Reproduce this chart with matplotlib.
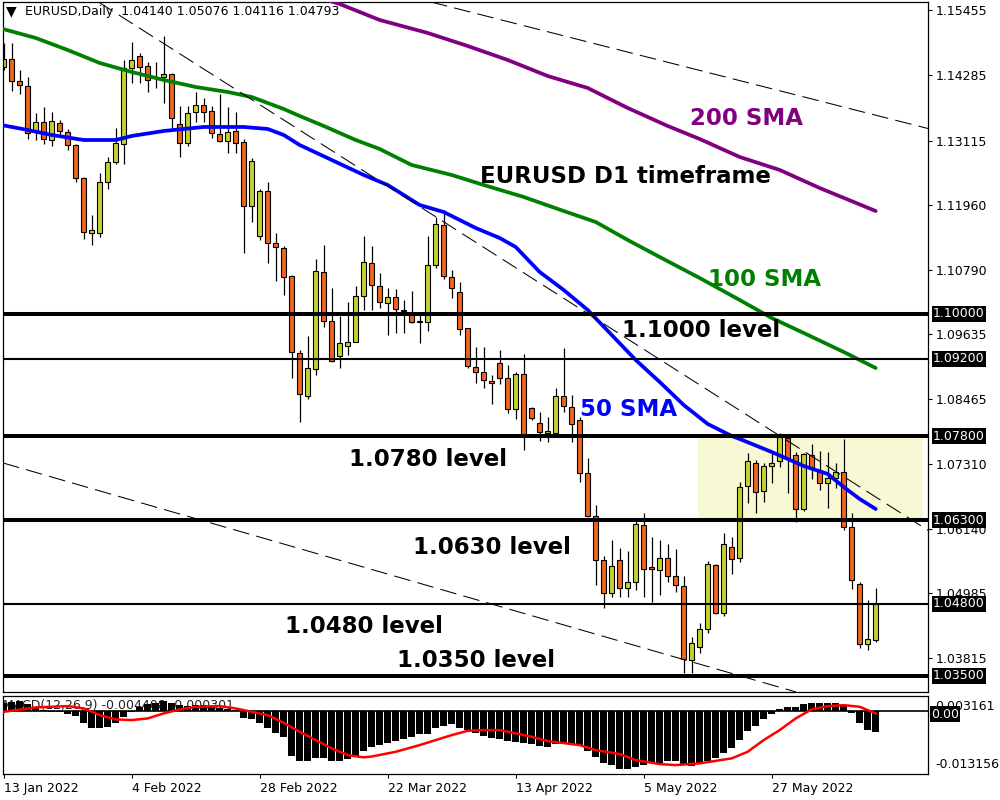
import matplotlib
matplotlib.use("Agg")
import matplotlib.pyplot as plt
import matplotlib.transforms as mtransforms
from matplotlib.patches import Rectangle

plt.rcParams['font.family'] = ['DejaVu Sans']

# ---------------- data ----------------
opens = [
    1.14435, 1.14579, 1.14184, 1.14094, 1.13286, 1.13447, 1.13124, 1.13429, 1.13268, 1.13034,
    1.12442, 1.11454, 1.11454, 1.12370, 1.12729, 1.13052, 1.14417, 1.14633, 1.14453, 1.14255,
    1.14255, 1.14309, 1.13412, 1.13070, 1.13627, 1.13753, 1.13645, 1.13232, 1.13106, 1.13286,
    1.13088, 1.11939, 1.11400, 1.12208, 1.11275, 1.11185, 1.10682, 1.09300, 1.08527, 1.09012,
    1.10754, 1.09874, 1.09246, 1.09425, 1.09497, 1.10323, 1.10916, 1.10503, 1.10197, 1.10305,
    1.10072, 1.09982, 1.09874, 1.09856, 1.10880, 1.11598, 1.10664, 1.10395, 1.09748, 1.09048,
    1.08958, 1.08797, 1.09120, 1.08851, 1.08294, 1.08923, 1.08312, 1.08043, 1.07863, 1.07863,
    1.08527, 1.08330, 1.08097, 1.07145, 1.06373, 1.05583, 1.04990, 1.05583, 1.05080, 1.05188,
    1.06211, 1.05457, 1.05403, 1.05619, 1.05295, 1.05116, 1.03787, 1.04021, 1.04344, 1.05493,
    1.04631, 1.05816, 1.05619, 1.06911, 1.07324, 1.06822, 1.07271, 1.07360, 1.07773, 1.07468,
    1.06498, 1.07468, 1.07199, 1.06965, 1.07055, 1.07163, 1.06175, 1.05152, 1.04074, 1.04140]
highs = [
    1.14866, 1.14866, 1.14381, 1.14255, 1.13609, 1.13717, 1.13627, 1.13483, 1.13322, 1.13050,
    1.12460, 1.11778, 1.12532, 1.12819, 1.13340, 1.14561, 1.14884, 1.14686, 1.14525, 1.14525,
    1.14992, 1.14327, 1.13735, 1.13735, 1.13986, 1.13878, 1.13735, 1.13950, 1.13717, 1.13627,
    1.13142, 1.12801, 1.12244, 1.12370, 1.11454, 1.11221, 1.10700, 1.09353, 1.09605, 1.10987,
    1.11239, 1.10467, 1.09964, 1.10215, 1.10503, 1.11400, 1.11221, 1.10736, 1.10467, 1.10449,
    1.10251, 1.10413, 1.10036, 1.11400, 1.11742, 1.11867, 1.10790, 1.10574, 1.09748, 1.09407,
    1.09407, 1.08905, 1.09353, 1.09084, 1.08950, 1.09282, 1.08330, 1.08240, 1.08150, 1.08671,
    1.09389, 1.08545, 1.08150, 1.07414, 1.06570, 1.05655, 1.05942, 1.05798, 1.05744, 1.06283,
    1.06427, 1.05996, 1.05942, 1.05870, 1.05780, 1.05295, 1.04200, 1.04451, 1.05565, 1.05511,
    1.06068, 1.05996, 1.06983, 1.07504, 1.07378, 1.07324, 1.07540, 1.07863, 1.07845, 1.07522,
    1.07504, 1.07666, 1.07540, 1.07522, 1.07324, 1.07755, 1.06427, 1.05188, 1.04864, 1.05076]
lows = [
    1.14381, 1.14004, 1.13950, 1.13142, 1.13124, 1.13052, 1.13016, 1.13178, 1.12945, 1.12370,
    1.11347, 1.11239, 1.11382, 1.12244, 1.12693, 1.12693, 1.14148, 1.14148, 1.13986, 1.14058,
    1.13789, 1.13340, 1.12819, 1.13016, 1.13447, 1.13447, 1.13160, 1.13088, 1.12891, 1.12891,
    1.11095, 1.11652, 1.11329, 1.10916, 1.10592, 1.10341, 1.08851, 1.08061, 1.08474, 1.08905,
    1.09766, 1.09138, 1.09030, 1.09264, 1.09497, 1.10072, 1.10072, 1.10108, 1.09623, 1.09659,
    1.09659, 1.09838, 1.09479, 1.09695, 1.10826, 1.10628, 1.10287, 1.09623, 1.09030, 1.08761,
    1.08671, 1.08384, 1.08743, 1.08222, 1.08114, 1.07558, 1.08097, 1.07719, 1.07701, 1.07863,
    1.08240, 1.07701, 1.06983, 1.06355, 1.05134, 1.04721, 1.04918, 1.04918, 1.04918, 1.05044,
    1.04918, 1.04829, 1.04954, 1.05188, 1.05008, 1.03554, 1.03554, 1.03913, 1.04272, 1.04613,
    1.04577, 1.05331, 1.05547, 1.06606, 1.06427, 1.06624, 1.06965, 1.07253, 1.06786, 1.06265,
    1.06463, 1.07037, 1.06840, 1.06516, 1.06876, 1.06121, 1.05062, 1.04003, 1.03967, 1.04116]
closes = [
    1.14579, 1.14184, 1.14112, 1.13250, 1.13447, 1.13142, 1.13465, 1.13286, 1.13034, 1.12442,
    1.11472, 1.11508, 1.12370, 1.12729, 1.13070, 1.14417, 1.14561, 1.14435, 1.14202, 1.14237,
    1.14309, 1.13519, 1.13070, 1.13609, 1.13753, 1.13627, 1.13250, 1.13106, 1.13268, 1.13070,
    1.11939, 1.12747, 1.12208, 1.11275, 1.11203, 1.10664, 1.09318, 1.08563, 1.09030, 1.10772,
    1.09874, 1.09156, 1.09479, 1.09497, 1.10323, 1.10934, 1.10521, 1.10215, 1.10305, 1.10090,
    1.10054, 1.09856, 1.09856, 1.10880, 1.11616, 1.10682, 1.10467, 1.09731, 1.09066, 1.08958,
    1.08815, 1.08761, 1.08851, 1.08294, 1.08923, 1.07809, 1.08132, 1.07881, 1.07899, 1.08527,
    1.08348, 1.08025, 1.07145, 1.06373, 1.05583, 1.04990, 1.05475, 1.05080, 1.05188, 1.06229,
    1.05421, 1.05421, 1.05619, 1.05295, 1.05134, 1.03805, 1.04092, 1.04344, 1.05511, 1.04631,
    1.05870, 1.05601, 1.06893, 1.07360, 1.06804, 1.07271, 1.07324, 1.07791, 1.07414, 1.06498,
    1.07486, 1.07217, 1.06965, 1.07055, 1.07163, 1.06175, 1.05224, 1.04074, 1.04164, 1.04793]

sma50_idx = [-1, 3, 6, 10, 14, 16, 20, 25, 30, 33, 35, 37, 41, 45, 48, 52, 55, 59, 62, 64,
             67, 70, 73, 76, 79, 82, 85, 88, 91, 92, 96, 100, 103, 105, 107, 109]
sma50_val = [1.13412, 1.13304, 1.13214, 1.13124, 1.13124, 1.13196, 1.13286, 1.13358, 1.13358,
             1.13322, 1.13214, 1.13034, 1.12765, 1.12496, 1.12316, 1.11957, 1.11831, 1.11544,
             1.11364, 1.11203, 1.10754, 1.10431, 1.10072, 1.09623, 1.09174, 1.08779, 1.08366,
             1.08025, 1.07809, 1.07755, 1.07522, 1.07271, 1.07127, 1.06893, 1.06678, 1.06498]
sma100_idx = [-1, 4, 8, 12, 16, 20, 24, 28, 31, 35, 37, 40, 44, 47, 51, 56, 60, 65, 70, 74,
              78, 82, 87, 92, 96, 100, 105, 109]
sma100_val = [1.15153, 1.14956, 1.14740, 1.14507, 1.14345, 1.14202, 1.14076, 1.13986, 1.13896,
              1.13681, 1.13555, 1.13376, 1.13124, 1.12962, 1.12675, 1.12496, 1.12316, 1.12101,
              1.11849, 1.11652, 1.11329, 1.11023, 1.10646, 1.10251, 1.09928, 1.09659, 1.09318,
              1.09030]
sma200_idx = [37, 40, 42, 47, 53, 58, 63, 68, 73, 78, 83, 87, 92, 97, 102, 109]
sma200_val = [1.15818, 1.15656, 1.15566, 1.15279, 1.15046, 1.14812, 1.14561, 1.14273, 1.14058,
              1.13699, 1.13376, 1.13142, 1.12819, 1.12586, 1.12262, 1.11849]

macd_hist = [
    0.00161, 0.00188, 0.00209, 0.00146, 0.00063, 0.00021, -0.00010, -0.00021, -0.00052, -0.00098,
    -0.00245, -0.00349, -0.00349, -0.00328, -0.00257, -0.00119, -0.00015, 0.00090, 0.00146, 0.00161,
    0.00215, 0.00173, 0.00125, 0.00105, 0.00125, 0.00125, 0.00094, 0.00073, 0.00052, 0.00021,
    -0.00153, -0.00173, -0.00245, -0.00349, -0.00454, -0.00550, -0.00941, -0.01039, -0.01039, -0.00976,
    -0.00976, -0.01039, -0.01039, -0.01009, -0.00941, -0.00830, -0.00746, -0.00711, -0.00663, -0.00627,
    -0.00591, -0.00537, -0.00481, -0.00481, -0.00349, -0.00307, -0.00278, -0.00349, -0.00397, -0.00466,
    -0.00516, -0.00558, -0.00585, -0.00627, -0.00642, -0.00663, -0.00690, -0.00725, -0.00746, -0.00690,
    -0.00690, -0.00696, -0.00717, -0.00830, -0.00968, -0.01081, -0.01129, -0.01212, -0.01219, -0.01164,
    -0.01129, -0.01093, -0.01081, -0.01051, -0.01039, -0.01108, -0.01150, -0.01114, -0.01045, -0.00989,
    -0.00872, -0.00780, -0.00606, -0.00412, -0.00307, -0.00173, -0.00069, 0.00036, 0.00090, 0.00077,
    0.00146, 0.00161, 0.00161, 0.00161, 0.00161, 0.00105, -0.00048, -0.00245, -0.00397, -0.00433]
sig_idx = [0, 4, 8, 10, 12, 14, 16, 18, 20, 22, 24, 27, 29, 31, 33, 35, 37, 39, 41, 43, 45, 46,
           49, 52, 54, 56, 58, 60, 62, 66, 68, 72, 74, 77, 79, 82, 84, 87, 91, 93, 95, 97, 99,
           101, 103, 105, 107, 109]
sig_val = [-0.00015, 0.00077, 0.00105, 0.00056, -0.00084, -0.00173, -0.00188, -0.00153, -0.00048,
           0.00036, 0.00090, 0.00105, 0.00056, -0.00015, -0.00084, -0.00245, -0.00433, -0.00606,
           -0.00780, -0.00920, -0.00968, -0.00950, -0.00851, -0.00711, -0.00606, -0.00502,
           -0.00412, -0.00397, -0.00397, -0.00537, -0.00627, -0.00711, -0.00815, -0.00899,
           -0.01024, -0.01108, -0.01129, -0.01093, -0.00989, -0.00851, -0.00606, -0.00397,
           -0.00153, 0.00036, 0.00105, 0.00125, 0.00090, -0.00048]

levels_thick = [1.1000, 1.0780, 1.0630, 1.0350]
levels_thin = [1.0920, 1.0480]
level_tags = ["1.10000", "1.09200", "1.07800", "1.06300", "1.04800", "1.03500"]
level_tag_vals = [1.1000, 1.0920, 1.0780, 1.0630, 1.0480, 1.0350]
price_ticks = [1.15455, 1.14285, 1.13115, 1.11960, 1.10790, 1.09635, 1.08465,
               1.07310, 1.06140, 1.04985, 1.03815]
price_tick_labels = ["1.15455", "1.14285", "1.13115", "1.11960", "1.10790", "1.09635",
                     "1.08465", "1.07310", "1.06140", "1.04985", "1.03815"]
date_tick_idx = [0, 16, 32, 48, 64, 80, 96]
date_tick_labels = ["13 Jan 2022", "4 Feb 2022", "28 Feb 2022", "22 Mar 2022",
                    "13 Apr 2022", "5 May 2022", "27 May 2022"]

trend_upper = [(54, 1.15580), (115, 1.13350)]
trend_mid = [(12, 1.15588), (115, 1.06165)]
trend_low = [(0, 1.07321), (97, 1.03297)]
zone_low, zone_high = 1.0630, 1.0780
zone_start, zone_end = 86.8, 114.9

header = "EURUSD,Daily  1.04140 1.05076 1.04116 1.04793"
macd_title = "MACD(12,26,9) -0.004408 -0.000301"

# ---------------- figure ----------------
W, H = 1000, 800
fig = plt.figure(figsize=(10, 8), dpi=100, facecolor='white')


def fx(x):
    return x / W


def fy(y):
    return 1 - y / H


ax = fig.add_axes([fx(3), fy(692), (928 - 3) / W, (692 - 2) / H])
axm = fig.add_axes([fx(3), fy(774), (928 - 3) / W, (774 - 696) / H])

XMIN, XMAX = -0.09, 115.54
ax.set_xlim(XMIN, XMAX)
ax.set_ylim(1.03212, 1.15602)
axm.set_xlim(XMIN, XMAX)
axm.set_ylim(-0.013156, 0.003161)

for a in (ax, axm):
    for s in a.spines.values():
        s.set_linewidth(0.9)
        s.set_color('black')

BULL = '#C4D22D'
BEAR = '#F0641E'

# zone
ax.add_patch(Rectangle((zone_start, zone_low), zone_end - zone_start, zone_high - zone_low,
                       facecolor='#F8F8D4', edgecolor='none', zorder=0.5))

# candles
xs = list(range(len(opens)))
body_bottom = [min(o, c) for o, c in zip(opens, closes)]
body_h = [max(abs(c - o), 0.00012) for o, c in zip(opens, closes)]
colors = [BULL if c >= o else BEAR for o, c in zip(opens, closes)]
ax.vlines(xs, lows, highs, color='black', linewidth=0.9, zorder=1.9)
ax.bar(xs, body_h, bottom=body_bottom, width=0.56, color=colors, edgecolor='black',
       linewidth=0.8, zorder=2)

# moving averages
ax.plot(sma200_idx, sma200_val, color='#800080', linewidth=2.7, zorder=3,
        solid_capstyle='round', solid_joinstyle='round')
ax.plot(sma100_idx, sma100_val, color='#008000', linewidth=2.7, zorder=3,
        solid_capstyle='round', solid_joinstyle='round')
ax.plot(sma50_idx, sma50_val, color='#0000FF', linewidth=2.7, zorder=3,
        solid_capstyle='round', solid_joinstyle='round')

# level lines
for lv in levels_thick:
    ax.axhline(lv, color='black', linewidth=2.9, zorder=4)
for lv in levels_thin:
    ax.axhline(lv, color='black', linewidth=1.5, zorder=4)

# trend lines
for p1, p2 in (trend_upper, trend_mid, trend_low):
    ax.axline(p1, p2, color='black', linewidth=0.75, linestyle=(0, (16, 7)), zorder=4)

# price axis
ax.set_xticks([])
ax.yaxis.tick_right()
ax.set_yticks(price_ticks)
ax.set_yticklabels(price_tick_labels)
ax.tick_params(axis='y', direction='out', length=3, width=0.8, pad=2.5, labelsize=9,
               colors='black')
trans = mtransforms.blended_transform_factory(ax.transAxes, ax.transData)
for lab, val in zip(level_tags, level_tag_vals):
    ax.annotate(lab, xy=(1, val), xycoords=trans, xytext=(5, 0), textcoords='offset pixels',
                ha='left', va='center', fontsize=9, color='white', zorder=10,
                annotation_clip=False,
                bbox=dict(boxstyle='square,pad=0.12', facecolor='black', edgecolor='none'))

# annotations
annos = [("EURUSD D1 timeframe", 480, 183, 'black'),
         ("200 SMA", 690, 125, '#800080'),
         ("100 SMA", 708, 286, '#008000'),
         ("50 SMA", 580, 416, '#0000FF'),
         ("1.1000 level", 622, 337, 'black'),
         ("1.0780 level", 349, 466, 'black'),
         ("1.0630 level", 413, 554, 'black'),
         ("1.0480 level", 285, 633, 'black'),
         ("1.0350 level", 397, 667, 'black')]
for txt, x, y, col in annos:
    fig.text(fx(x), fy(y), txt, fontsize=16.5, fontweight='bold', color=col,
             ha='left', va='baseline', zorder=20)

# header
fig.text(fx(6), fy(11), "\u25BC", fontsize=10, color='black', ha='left', va='center')
fig.text(fx(25), fy(12), header, fontsize=9, color='black', ha='left', va='center')

# MACD panel
axm.text(0.0, 0.88, macd_title, transform=axm.transAxes, fontsize=9, color='#222222',
         ha='left', va='center', zorder=1)
axm.bar(xs, macd_hist, width=0.86, color='black', zorder=2)
axm.axhline(0, color='black', linewidth=1.2, zorder=2.5)
axm.plot(sig_idx, sig_val, color='#FF0000', linewidth=1.8, zorder=3,
         solid_joinstyle='round')
axm.set_yticks([])
axm.set_xticks(date_tick_idx)
axm.set_xticklabels(date_tick_labels)
for lbl in axm.get_xticklabels():
    lbl.set_ha('left')
axm.tick_params(axis='x', direction='out', length=3, width=0.8, pad=2.5, labelsize=9)

fig.text(fx(931), fy(714), "0.00", fontsize=9, color='white', ha='left', va='center',
         bbox=dict(boxstyle='square,pad=0.1', facecolor='black', edgecolor='none'))
fig.text(fx(935), fy(706), "0.003161", fontsize=9, color='black', ha='left', va='center')
fig.text(fx(935), fy(765), "-0.013156", fontsize=9, color='black', ha='left', va='center')

fig.savefig("out.png", dpi=100, facecolor='white')
